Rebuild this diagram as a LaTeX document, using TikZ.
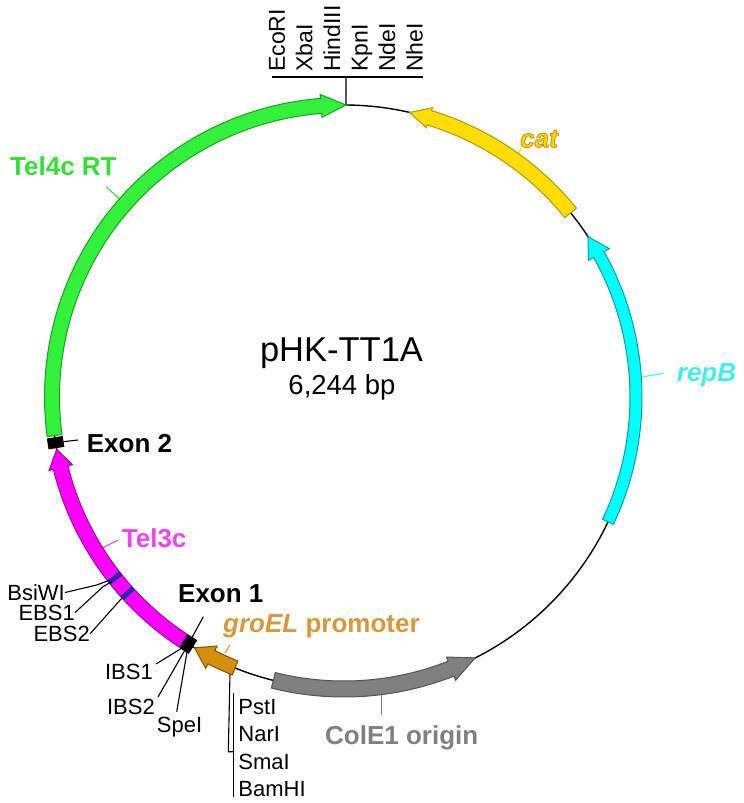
\documentclass[tikz,border=0pt]{standalone}
\usepackage{fontspec}
\setmainfont{Liberation Sans}
\usetikzlibrary{calc}
\definecolor{grnF}{HTML}{33F03A}\definecolor{grnD}{HTML}{1E9E24}\definecolor{grnT}{HTML}{33E033}
\definecolor{magF}{HTML}{FF00FF}\definecolor{magD}{HTML}{A000A0}\definecolor{magT}{HTML}{EE44EE}
\definecolor{yelF}{HTML}{FFDD00}\definecolor{yelD}{HTML}{B09800}\definecolor{yelT}{HTML}{FFD700}
\definecolor{cyaF}{HTML}{00FFFF}\definecolor{cyaD}{HTML}{00A0A0}\definecolor{cyaT}{HTML}{40EEEE}
\definecolor{gryF}{HTML}{808080}\definecolor{gryD}{HTML}{555555}\definecolor{gryT}{HTML}{808080}
\definecolor{orgF}{HTML}{D4900C}\definecolor{orgD}{HTML}{7A5200}\definecolor{orgT}{HTML}{D9973B}
\definecolor{ebsC}{HTML}{2A2AA8}
\newcommand\plasarr[6]{%
  \pgfmathsetmacro\plRo{292+#4}\pgfmathsetmacro\plRi{292-#4}%
  \pgfmathsetmacro\plHo{292+#5}\pgfmathsetmacro\plHi{292-#5}%
  \draw[#6] (#1:\plRo pt) arc[start angle=#1,end angle=#2,radius=\plRo pt]
    -- (#2:\plHo pt) -- (#3:292pt) -- (#2:\plHi pt) -- (#2:\plRi pt)
    arc[start angle=#2,end angle=#1,radius=\plRi pt] -- cycle;}
\newcommand\outlinedtext[1]{\special{pdf:literal direct 2 Tr 0.9 w 0.76 0.6 0 RG}#1\special{pdf:literal direct 0 Tr}}
\tikzset{
  site/.style={font=\fontsize{22}{26}\selectfont, inner sep=0pt},
  mcs/.style={font=\fontsize{23}{27}\selectfont, inner sep=0pt, rotate=90, anchor=base west},
  feat/.style={font=\fontsize{26}{30}\selectfont\bfseries, inner sep=0pt},
  featit/.style={font=\fontsize{26}{30}\selectfont\bfseries\itshape, inner sep=0pt},
  exbox/.style={fill=black, draw=none, inner sep=0pt, minimum width=16pt, minimum height=11pt},
  ebsbar/.style={fill=ebsC, draw=none, inner sep=0pt, minimum width=15pt, minimum height=5pt},
  leader/.style={line width=1.1pt},
  outl/.style={line width=1pt, line join=miter},
}
\begin{document}
\begin{tikzpicture}[x=1pt,y=1pt]
\useasboundingbox (-344,-406) rectangle (400,397);
% backbone
\draw[line width=1.4pt] (0,0) circle[radius=292pt];
% title
\node[font=\fontsize{34.5}{40}\selectfont, anchor=base, inner sep=0pt] (title) at (-2.5,35) {pHK-TT1A};
\node[font=\fontsize{27.5}{32}\selectfont, anchor=base, inner sep=0pt] (size) at (-2,2) {6,244 bp};
% top MCS
\coordinate (mcsPt) at (89.6:292pt);
\coordinate (mcsTop) at (2,320);
\coordinate (mcsL) at (-72.3,320);
\coordinate (mcsR) at (79.3,320);
\draw[leader] (mcsL) -- (mcsR);
\draw[leader] (mcsTop) -- (mcsPt);
\node[mcs] (ecori) at (-59,325) {EcoRI};
\node[mcs] (xbai) at (-31.5,325) {XbaI};
\node[mcs] (hind) at (-4,325) {HindIII};
\node[mcs] (kpni) at (23.5,325) {KpnI};
\node[mcs] (ndei) at (51,325) {NdeI};
\node[mcs] (nhei) at (78.5,325) {NheI};
% bottom MCS
\coordinate (bmStart) at (-114,-276.3);
\coordinate (bmBend) at (-115.7,-354.7);
\coordinate (bmJoin) at (-110.7,-354.7);
\coordinate (bmTop) at (-110.7,-296);
\coordinate (bmBot) at (-110.7,-399.7);
\draw[leader] (bmStart) -- (bmBend) -- (bmJoin);
\draw[leader] (bmTop) -- (bmBot);
\node[site, anchor=base west] (psti) at (-105.7,-317.6) {PstI};
\node[site, anchor=base west] (nari) at (-105.7,-344.2) {NarI};
\node[site, anchor=base west] (smai) at (-105.7,-372.6) {SmaI};
\node[site, anchor=base west] (bamhi) at (-105.7,-399.2) {BamHI};
% feature labels
\node[feat, text=grnT, anchor=base west] (tel4) at (-334,221) {Tel4c RT};
\node[feat, text=magT, anchor=base west] (tel3) at (-222.3,-150.3) {Tel3c};
\node[featit, text=yelT, anchor=base west] (catlab) at (176,249.7) {\outlinedtext{cat}};
\node[featit, text=cyaT, anchor=base west] (repb) at (332.7,16) {repB};
\node[feat, text=gryT, anchor=base west] (cole1) at (-19,-347.3) {ColE1 origin};
\node[feat, text=orgT, anchor=base west] (groel) at (-121,-235.3) {\itshape groEL\upshape\ promoter};
\node[feat, anchor=base west] (exon1) at (-166,-205.3) {Exon 1};
\node[feat, anchor=base west] (exon2) at (-257.3,-55.3) {Exon 2};
\node[site, anchor=base east] (bsiwi) at (-279,-203.4) {BsiWI};
\node[site, anchor=base east] (ebs1l) at (-269,-223.2) {EBS1};
\node[site, anchor=base east] (ebs2l) at (-254,-244.5) {EBS2};
\node[site, anchor=base east] (ibs1) at (-191,-282) {IBS1};
\node[site, anchor=base east] (ibs2) at (-189,-317.9) {IBS2};
\node[site, anchor=base west] (spei) at (-187.3,-335.9) {SpeI};
% feature label leaders
\coordinate (tel4a) at (-238,210.3); \coordinate (tel4b) at (-224,197.7);
\draw[leader, grnT] (tel4a) -- (tel4b);
\coordinate (tel3a) at (-242.3,-151.3); \coordinate (tel3b) at (-225.7,-143);
\draw[leader, magT] (tel3a) -- (tel3b);
\coordinate (cata) at (174,242); \coordinate (catb) at (177.7,250);
\draw[leader, yelT] (cata) -- (catb);
\coordinate (repa) at (299.3,20.3); \coordinate (repbb) at (319.3,23.7);
\draw[leader, cyaT] (repa) -- (repbb);
\coordinate (cola) at (37.7,-298); \coordinate (colb) at (37.7,-318);
\draw[leader, gryT] (cola) -- (colb);
\coordinate (groa) at (-119,-256); \coordinate (grob) at (-114,-248);
\draw[leader, orgT] (groa) -- (grob);
% features
\plasarr{187.6}{94.5}{89.6}{7.5}{11.5}{outl, fill=grnF, draw=grnD}
\plasarr{236.6}{194}{190.3}{7.5}{12}{outl, fill=magF, draw=magD}
\plasarr{248.1}{243}{239.2}{7.5}{12.5}{outl, fill=orgF, draw=orgD}
\plasarr{256}{291.5}{296.7}{8}{12.5}{outl, fill=gryF, draw=gryD}
\plasarr{-25.3}{29.2}{33.3}{6}{12}{outl, fill=cyaF, draw=cyaD}
\plasarr{39.1}{73}{77}{7.5}{10.5}{outl, fill=yelF, draw=yelD}
% EBS bars and exon boxes
\node[ebsbar, rotate=218.3] (ebs1) at (218.3:292pt) {};
\node[ebsbar, rotate=222.2] (ebs2) at (222.2:292pt) {};
\node[exbox, rotate=189] (ex2) at (189:292pt) {};
\node[exbox, rotate=237.8] (ex1) at (237.8:292pt) {};
% black leaders
\coordinate (bsiA) at (-247.3,-188); \coordinate (bsiB) at (-234,-183);
\draw[leader] (bsiwi.east) -- (bsiA) -- (bsiB);
\coordinate (e1A) at (-241,-189.7); \coordinate (e1B) at (-232.3,-184.7);
\draw[leader] (ebs1l.east) -- (e1A) -- (e1B);
\coordinate (e2A) at (-222.3,-201.3);
\draw[leader] (ebs2l.east) -- (e2A);
\coordinate (x2A) at (-266,-43);
\draw[leader] (ex2.center) -- (x2A);
\coordinate (x1A) at (-140.7,-219.7);
\draw[leader] (ex1.center) -- (x1A);
\coordinate (i1A) at (-188,-267);
\draw[leader] (ex1.center) -- (i1A);
\coordinate (i2A) at (-186,-300);
\draw[leader] (ex1.center) -- (i2A);
\coordinate (spA) at (-167.3,-314.7);
\draw[leader] (ex1.center) -- (spA);
\end{tikzpicture}
\end{document}
